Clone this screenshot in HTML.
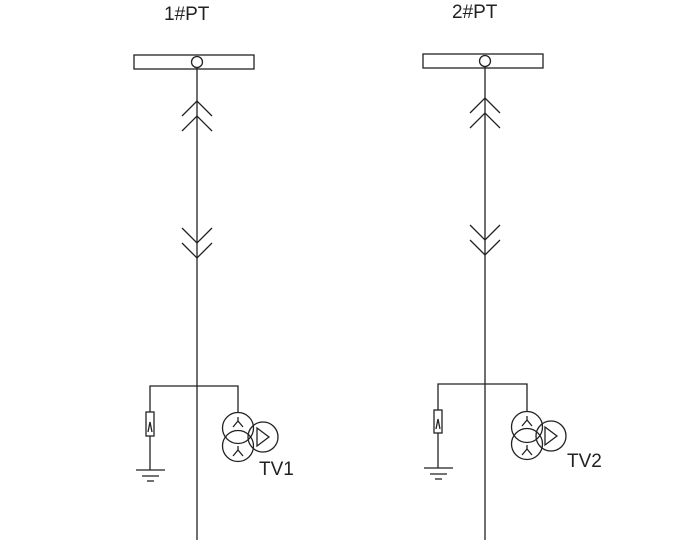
<!DOCTYPE html>
<html><head><style>body{margin:0;background:#fff}svg{display:block}</style></head><body>
<svg width="680" height="551" viewBox="0 0 680 551" xmlns="http://www.w3.org/2000/svg" font-family="Liberation Sans, sans-serif">
<g fill="none" stroke="#222" stroke-width="1.3">
<g transform="translate(197,0)">
<rect x="-63" y="55" width="120" height="14"/><circle cx="0" cy="62" r="5.5" fill="#fff"/>
<line x1="0" y1="68" x2="0" y2="540"/>
<polyline points="-15,116 0,101 15,116"/><polyline points="-15,131 0,116 15,131"/>
<polyline points="-15,228 0,243 15,228"/><polyline points="-15,243 0,258 15,243"/>
</g>
<g transform="translate(485,0)">
<rect x="-62" y="54" width="120" height="14"/><circle cx="0" cy="61" r="5.5" fill="#fff"/>
<line x1="0" y1="67" x2="0" y2="540"/>
<polyline points="-15,113 0,98 15,113"/><polyline points="-15,128 0,113 15,128"/>
<polyline points="-15,225 0,240 15,225"/><polyline points="-15,240 0,255 15,240"/>
</g>
<!-- left bottom -->
<polyline points="150,470 150,386 238,386 238,412"/>
<rect x="146" y="412" width="8" height="24" fill="#fff"/>
<polyline points="148,432 150,422 152,432"/>
<line x1="136" y1="470" x2="165" y2="470"/><line x1="142" y1="476" x2="159" y2="476"/><line x1="147" y1="481" x2="154" y2="481"/>
<circle cx="238" cy="428" r="15.5"/><circle cx="238" cy="446" r="15.5"/><circle cx="263" cy="437" r="15"/>
<polyline points="233,427 238,421 243,427"/><line x1="238" y1="421" x2="238" y2="417"/>
<polyline points="233,456 238,450 243,456"/><line x1="238" y1="450" x2="238" y2="446"/>
<polygon points="257,428 269,437 257,446"/>
<!-- right bottom -->
<polyline points="438,468 438,384 527,384 527,411"/>
<rect x="434" y="410" width="8" height="23" fill="#fff"/>
<polyline points="436,429 438,419 440,429"/>
<line x1="424" y1="468" x2="453" y2="468"/><line x1="430" y1="474" x2="447" y2="474"/><line x1="435" y1="479" x2="442" y2="479"/>
<circle cx="527" cy="427" r="15.5"/><circle cx="527" cy="444" r="15.5"/><circle cx="551" cy="436" r="15"/>
<polyline points="522,426 527,420 532,426"/><line x1="527" y1="420" x2="527" y2="416"/>
<polyline points="522,455 527,449 532,455"/><line x1="527" y1="449" x2="527" y2="445"/>
<polygon points="545,427 557,436 545,445"/>
</g>
<g fill="#222" font-size="19">
<text x="164" y="20">1#PT</text>
<text x="452" y="18">2#PT</text>
<text x="259" y="475">TV1</text>
<text x="567" y="467">TV2</text>
</g>
</svg>
</body></html>
